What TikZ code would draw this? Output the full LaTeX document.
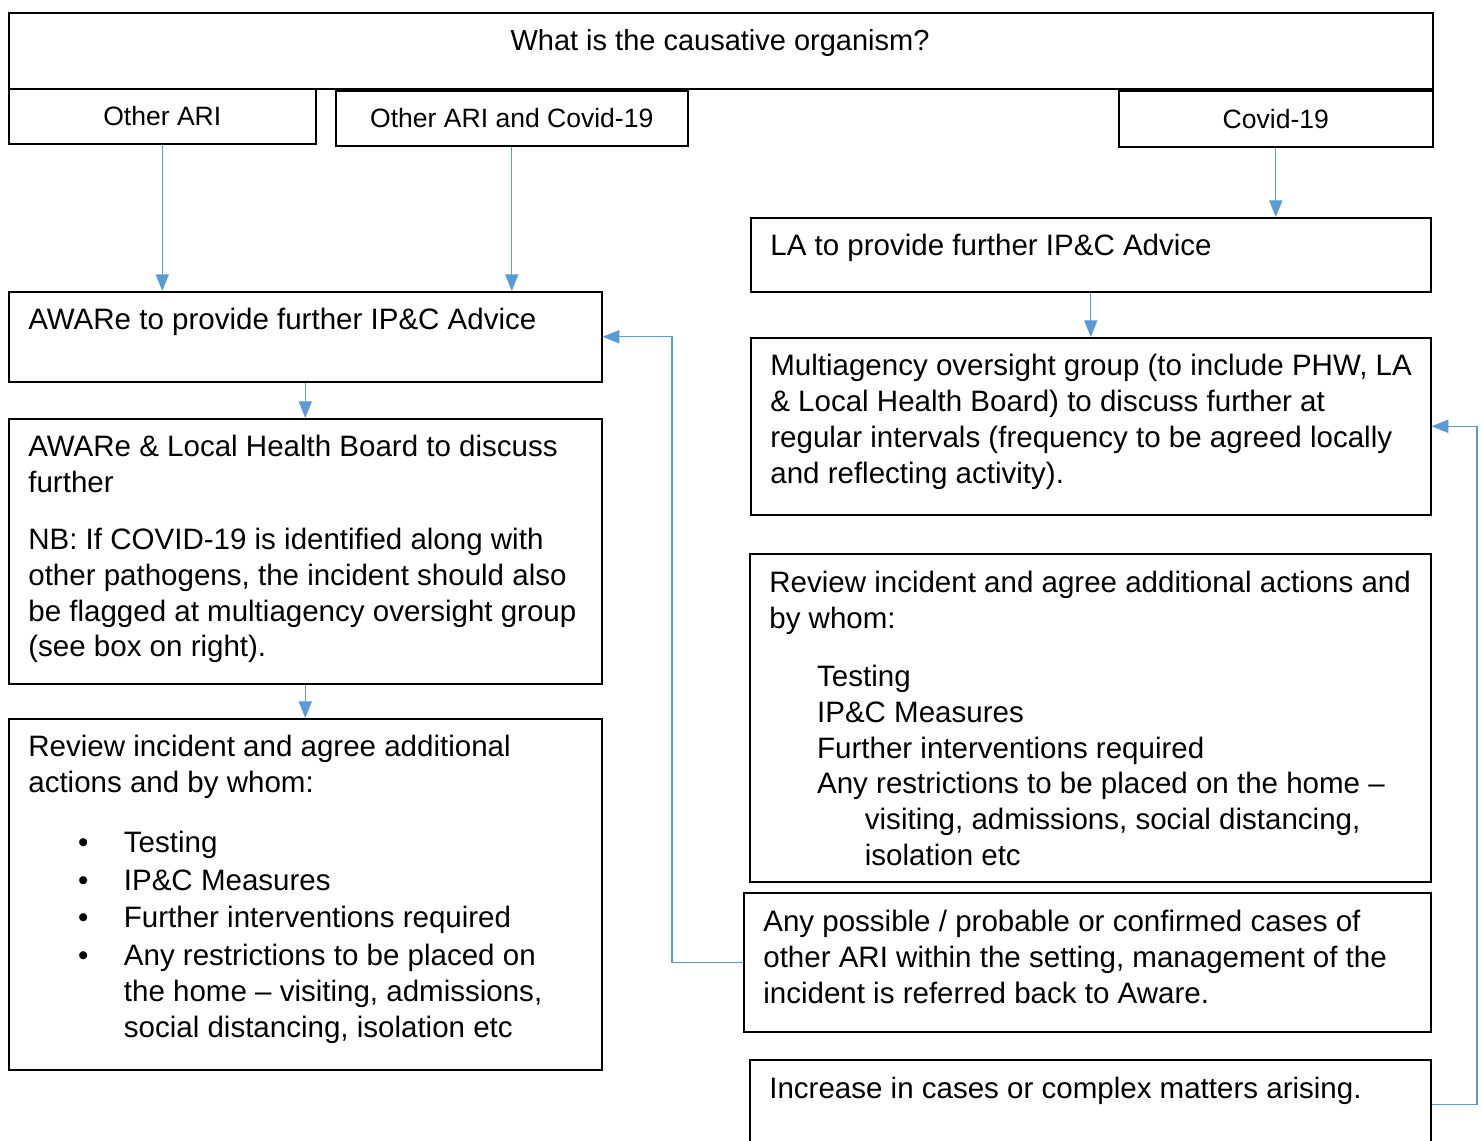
\documentclass[tikz,border=0pt]{standalone}
\usepackage{fontspec}
\setmainfont{Liberation Sans}
\usetikzlibrary{arrows.meta}
\usepackage{color}
\definecolor{flowblue}{HTML}{5B9BD5}
\newcommand{\bulitem}{\makebox[54.4pt][l]{\hspace*{28.3pt}\textbullet}}
\newcommand{\subind}{\hspace*{54.4pt}}
\newcommand{\itind}{\hspace*{27.2pt}}

\begin{document}
\begin{tikzpicture}[x=0.02cm,y=-0.02cm,
            font=\fontsize{16.8}{20.4}\selectfont,
            >={Triangle[length=9.5pt,width=7.5pt]},
            bx/.style 2 args={draw,line width=0.9pt,anchor=north west,inner sep=0pt,
                minimum width=#1*0.02cm,minimum height=#2*0.02cm},
            hdr/.style={font=\fontsize{15.1}{18}\selectfont},
            txt/.style={anchor=north west,inner sep=0pt,align=left},
            flow/.style={->,draw=flowblue,line width=0.6pt},
        ]
        \useasboundingbox (0,0) rectangle (1482,1141);
        \clip (0,0) rectangle (1482,1141);
        % question and the three answers
        \node[bx={1424}{76}] (q) at (8,12) {};
        \node[inner sep=0pt,font=\fontsize{16.5}{20}\selectfont] (qt) at (720,43) {What is the causative organism?};
        \node[bx={307}{55},hdr] (oari) at (8,88) {Other ARI};
        \node[bx={352}{55},hdr] (both) at (335,90) {Other ARI and Covid-19};
        \node[bx={314}{56},hdr] (cov) at (1118,90) {Covid-19};
        % left column
        \node[bx={593}{90}] (aware) at (8,291) {};
        \node[txt] (awaret) at (28,308) {AWARe to provide further IP\&C Advice};
        \node[bx={593}{265}] (lhb) at (8,418) {};
        \node[txt] (lhbt) at (28,435) {AWARe \& Local Health Board to discuss\\
            further\\[11.9pt]
            NB: If COVID-19 is identified along with\\
            other pathogens, the incident should also\\
            be flagged at multiagency oversight group\\
            (see box on right).};
        \node[bx={593}{351}] (revl) at (8,718) {};
        \node[txt] (revlt) at (28,735) {Review incident and agree additional\\
            actions and by whom:\\[13.6pt]
            \bulitem Testing\\[1.1pt]
            \bulitem IP\&C Measures\\[1.1pt]
            \bulitem Further interventions required\\[1.1pt]
            \bulitem Any restrictions to be placed on\\
            \subind the home -- visiting, admissions,\\
            \subind social distancing, isolation etc};
        % right column
        \node[bx={680}{74}] (la) at (750,217) {};
        \node[txt] (lat) at (770,234) {LA to provide further IP\&C Advice};
        \node[bx={680}{177}] (multi) at (750,337) {};
        \node[txt] (multit) at (770,354) {Multiagency oversight group (to include PHW, LA\\
            \& Local Health Board) to discuss further at\\
            regular intervals (frequency to be agreed locally\\
            and reflecting activity).};
        \node[bx={681}{328}] (revr) at (749,553) {};
        \node[txt] (revrt) at (769,571) {Review incident and agree additional actions and\\
            by whom:\\[12.5pt]
            \itind Testing\\
            \itind IP\&C Measures\\
            \itind Further interventions required\\
            \itind Any restrictions to be placed on the home --\\
            \subind visiting, admissions, social distancing,\\
            \subind isolation etc};
        \node[bx={687}{139}] (poss) at (743,892) {};
        \node[txt] (posst) at (763,910) {Any possible / probable or confirmed cases of\\
            other ARI within the setting, management of the\\
            incident is referred back to Aware.};
        \node[bx={681}{90}] (incr) at (749,1059) {};
        \node[txt] (incrt) at (769,1077) {Increase in cases or complex matters arising.};
        % connectors
        \coordinate (bendl) at (672,0);
        \coordinate (bendr) at (1477,0);
        \draw[flow] (oari.south) -- (oari.south |- aware.north);
        \draw[flow] (both.south) -- (both.south |- aware.north);
        \draw[flow] (cov.south) -- (cov.south |- la.north);
        \draw[flow] (aware.south) -- (lhb.north);
        \draw[flow] (lhb.south) -- (revl.north);
        \draw[flow] (la.south) -- (multi.north);
        \draw[flow] (poss.west) -- (poss.west -| bendl) |- (aware.east);
        \draw[flow] (incr.east) -- (incr.east -| bendr) |- (multi.east);
    \end{tikzpicture}
\end{document}
